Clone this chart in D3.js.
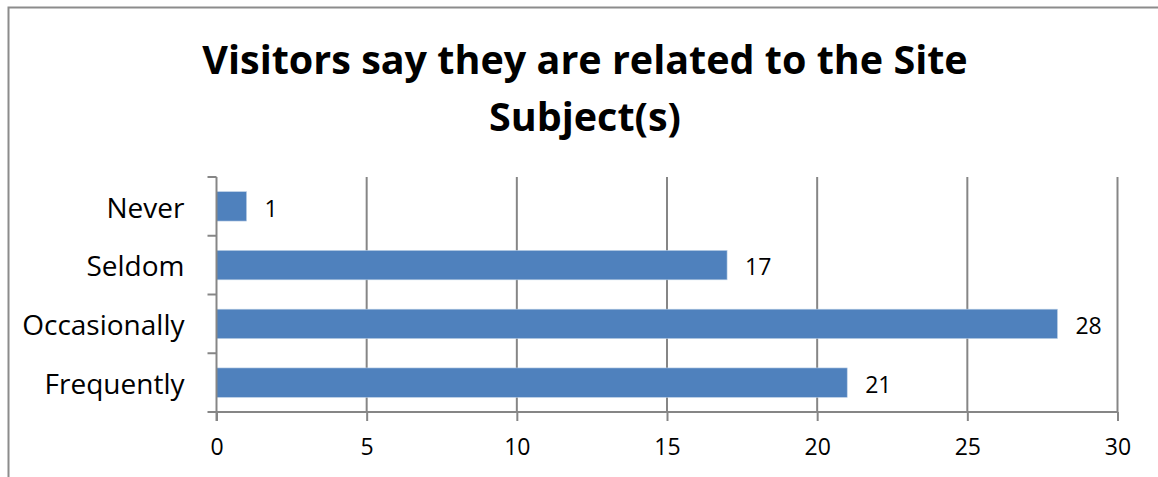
<!DOCTYPE html>
<html>
<head>
<meta charset="utf-8">
<script src="https://cdn.jsdelivr.net/npm/d3@7"></script>
<style>
  body { margin: 0; background: #fff; }
  text { font-family: "Open Sans", "DejaVu Sans", sans-serif; }
</style>
</head>
<body>
<script>
// data
var categories = ["Never", "Seldom", "Occasionally", "Frequently"];
var counts = [1, 17, 28, 21];
var xTicks = [0, 5, 10, 15, 20, 25, 30];
var titleLines = ["Visitors say they are related to the Site", "Subject(s)"];

var width = 1158, height = 477;
var plotLeft = 216.5, plotRight = 1117.5, plotTop = 177, plotBottom = 412;

var svg = d3.select("body").append("svg")
    .attr("width", width)
    .attr("height", height);

// outer frame (only top and left visible)
svg.append("path")
    .attr("d", "M8.5,477 V7.5 H1158")
    .attr("fill", "none")
    .attr("stroke", "#8c8c8c")
    .attr("stroke-width", 2);

var x = d3.scaleLinear().domain([0, 30]).range([plotLeft, plotRight]);
var y = d3.scaleBand().domain(categories).range([plotTop, plotBottom]).paddingInner(0.5).paddingOuter(0.25);

// title
svg.append("g").selectAll("text")
    .data(titleLines)
    .enter().append("text")
    .attr("x", 585)
    .attr("y", function(d, i) { return 74 + i * 57; })
    .attr("text-anchor", "middle")
    .attr("font-size", 39.5)
    .attr("font-weight", "bold")
    .attr("fill", "#000")
    .text(function(d) { return d; });

// vertical gridlines
svg.append("g").selectAll("line")
    .data(xTicks.slice(1))
    .enter().append("line")
    .attr("x1", function(d) { return x(d); })
    .attr("x2", function(d) { return x(d); })
    .attr("y1", plotTop)
    .attr("y2", plotBottom)
    .attr("stroke", "#868686")
    .attr("stroke-width", 2);

// bars
svg.append("g").selectAll("rect")
    .data(counts)
    .enter().append("rect")
    .attr("x", x(0))
    .attr("y", function(d, i) { return y(categories[i]); })
    .attr("width", function(d) { return x(d) - x(0); })
    .attr("height", y.bandwidth())
    .attr("fill", "#4f81bd")
    .attr("stroke", "#b9cde5")
    .attr("stroke-width", 0.6);

// value labels
svg.append("g").selectAll("text")
    .data(counts)
    .enter().append("text")
    .attr("x", function(d) { return x(d) + 18; })
    .attr("y", function(d, i) { return y(categories[i]) + y.bandwidth() / 2; })
    .attr("dy", "0.45em")
    .attr("font-size", 23)
    .attr("fill", "#000")
    .text(function(d) { return d; });

// x axis
var xAxis = d3.axisBottom(x).tickValues(xTicks).tickSize(9).tickPadding(18);
var gx = svg.append("g")
    .attr("transform", "translate(0," + plotBottom + ")")
    .call(xAxis);
gx.select(".domain").attr("stroke", "#868686").attr("stroke-width", 2)
    .attr("d", "M" + (plotLeft - 9) + ",0H" + plotRight);
gx.selectAll(".tick line").attr("stroke", "#868686").attr("stroke-width", 2);
gx.selectAll(".tick text").attr("font-size", 23).attr("fill", "#000")
    .attr("font-family", "Open Sans, DejaVu Sans, sans-serif");

// y axis (ticks at category boundaries)
var boundaries = categories.map(function(c) { return y(c) - y.step() * 0.25; });
var gy = svg.append("g");
gy.append("line")
    .attr("x1", plotLeft).attr("x2", plotLeft)
    .attr("y1", plotTop).attr("y2", plotBottom + 9)
    .attr("stroke", "#868686").attr("stroke-width", 2);
gy.selectAll(".tk")
    .data(boundaries)
    .enter().append("line")
    .attr("class", "tk")
    .attr("x1", plotLeft - 9).attr("x2", plotLeft)
    .attr("y1", function(d) { return d; })
    .attr("y2", function(d) { return d; })
    .attr("stroke", "#868686").attr("stroke-width", 2);
gy.selectAll("text")
    .data(categories)
    .enter().append("text")
    .attr("x", plotLeft - 32)
    .attr("y", function(d) { return y(d) + y.bandwidth() / 2; })
    .attr("dy", "0.4em")
    .attr("text-anchor", "end")
    .attr("font-size", 28)
    .attr("fill", "#000")
    .text(function(d) { return d; });
</script>
</body>
</html>
